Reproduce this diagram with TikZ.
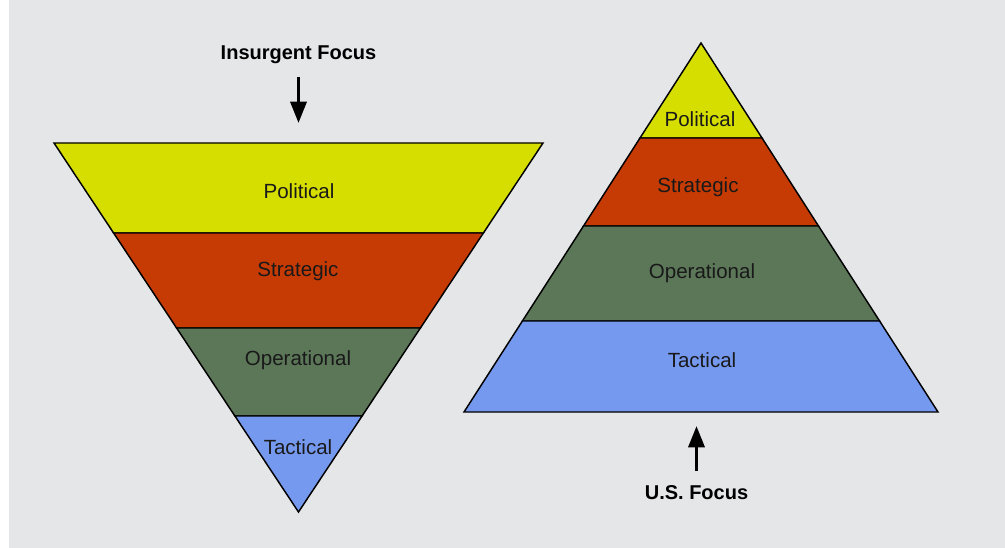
\documentclass[tikz,border=0pt]{standalone}
\usepackage{fontspec}
\setmainfont{Liberation Sans}
\usetikzlibrary{arrows.meta}

\definecolor{bggray}{HTML}{E5E6E8}
\definecolor{polyellow}{HTML}{D6DE00}
\definecolor{strared}{HTML}{C63A04}
\definecolor{opgreen}{HTML}{5B7758}
\definecolor{tacblue}{HTML}{7699F0}

\tikzset{
  layer/.style={draw=black, line width=1.1pt, line join=miter},
  lvl/.style={font=\fontsize{15.4}{18}\selectfont, text=black!90},
  focus/.style={font=\bfseries\fontsize{15}{18}\selectfont},
  focusarrow/.style={-{Triangle[length=16pt,width=12pt]}, line width=2.6pt}
}

\begin{document}
\begin{tikzpicture}[x=0.75pt, y=-0.75pt]
  \useasboundingbox (0,0) rectangle (1005,548);
  \fill[white] (0,0) rectangle (1005,548);
  \fill[bggray] (9,0) rectangle (1005,548);

  % insurgent pyramid (upside down)
  \filldraw[layer, fill=polyellow] (54,143) -- (543,143) -- (483.4,233) -- (113.6,233) -- cycle;
  \filldraw[layer, fill=strared] (113.6,233) -- (483.4,233) -- (420.4,328) -- (176.6,328) -- cycle;
  \filldraw[layer, fill=opgreen] (176.6,328) -- (420.4,328) -- (362.1,416) -- (234.9,416) -- cycle;
  \filldraw[layer, fill=tacblue] (234.9,416) -- (362.1,416) -- (298.5,512) -- cycle;
  \node[lvl] (insPol) at (299,191) {Political};
  \node[lvl] (insStr) at (298,271) {Strategic};
  \node[lvl] (insOp) at (298,360) {Operational};
  \node[lvl] (insTac) at (298,447) {Tactical};

  % u.s. pyramid
  \filldraw[layer, fill=polyellow] (701,43) -- (762,138) -- (640,138) -- cycle;
  \filldraw[layer, fill=strared] (640,138) -- (762,138) -- (818.5,226) -- (583.5,226) -- cycle;
  \filldraw[layer, fill=opgreen] (583.5,226) -- (818.5,226) -- (879.6,321) -- (522.4,321) -- cycle;
  \filldraw[layer, fill=tacblue] (522.4,321) -- (879.6,321) -- (938,412) -- (464,412) -- cycle;
  \node[lvl] (usPol) at (700,119) {Political};
  \node[lvl] (usStr) at (698,187) {Strategic};
  \node[lvl] (usOp) at (702,273) {Operational};
  \node[lvl] (usTac) at (702,360) {Tactical};

  % focus labels
  \node[focus] (insFocus) at (298.5,55) {Insurgent Focus};
  \coordinate (insStart) at (298.5,77);
  \coordinate (insTop) at (298.5,123);
  \draw[focusarrow] (insStart) -- (insTop);

  \node[focus] (usFocus) at (696.5,493) {U.S. Focus};
  \coordinate (usStart) at (696.5,471);
  \coordinate (usBase) at (696.5,426);
  \draw[focusarrow] (usStart) -- (usBase);
\end{tikzpicture}
\end{document}
